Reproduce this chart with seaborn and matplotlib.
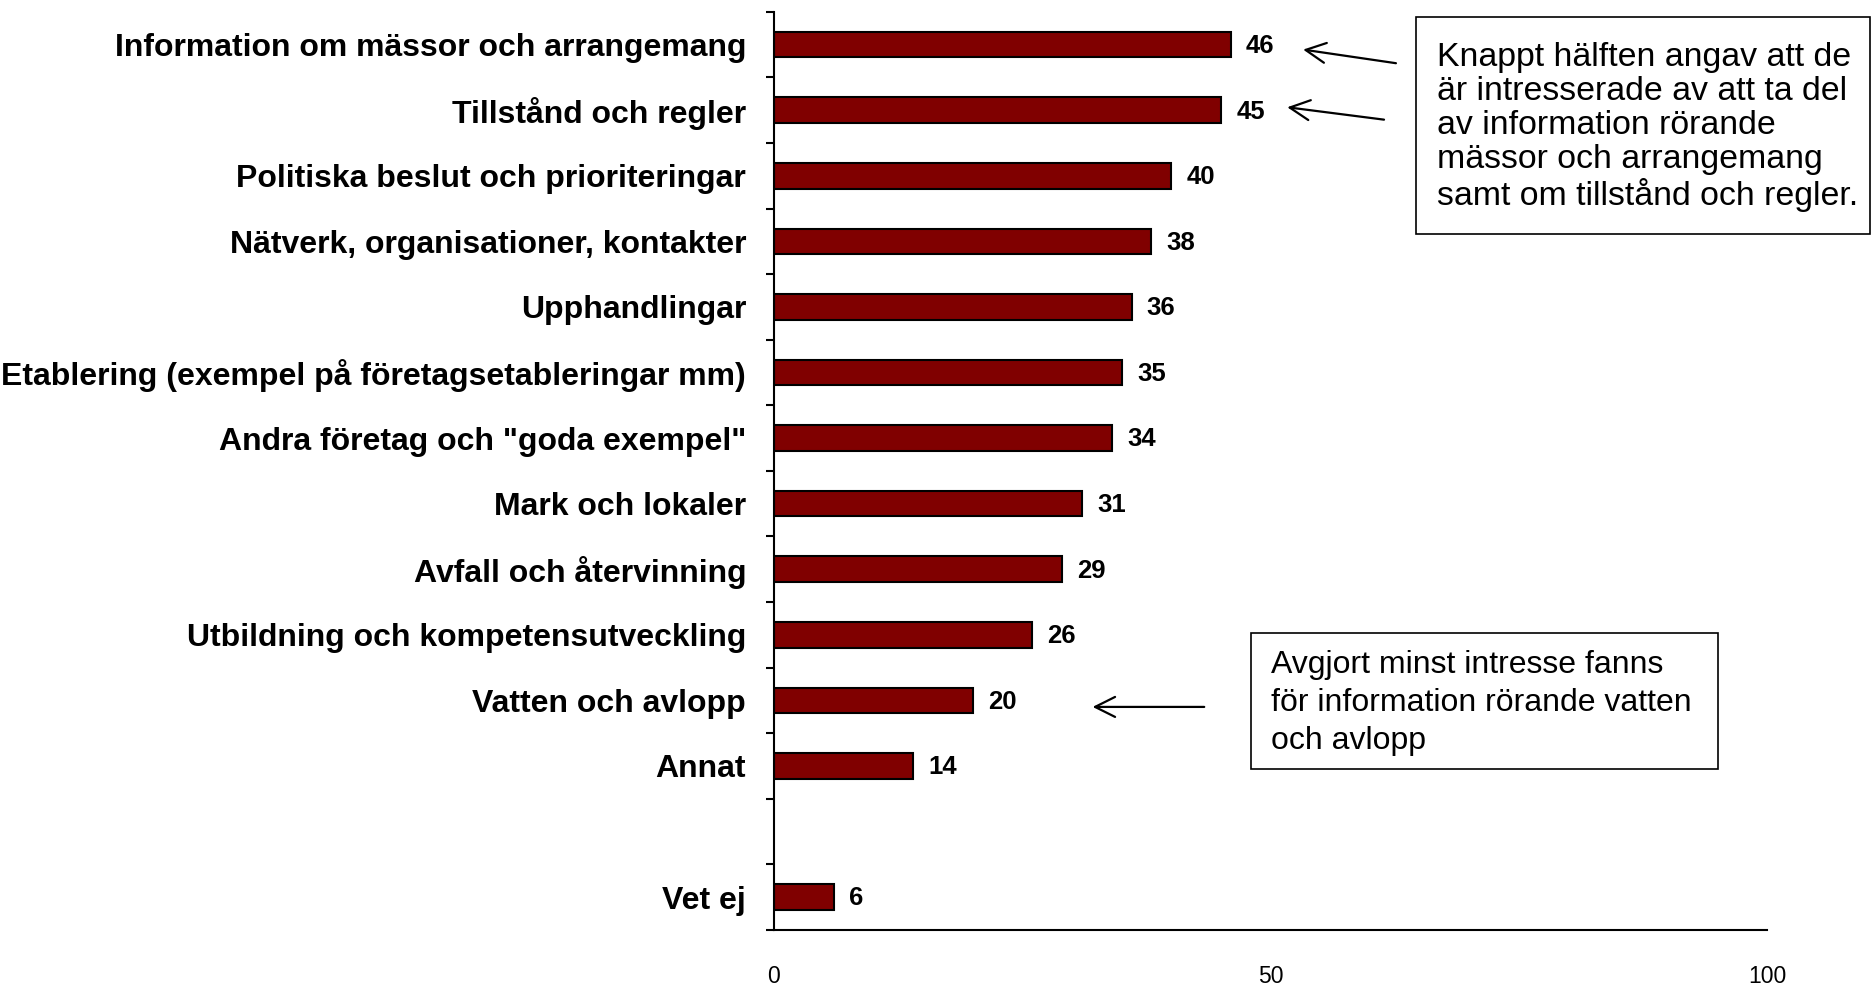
import matplotlib
matplotlib.use("Agg")
import matplotlib.pyplot as plt
import seaborn as sns
import pandas as pd
from matplotlib.patches import Rectangle

# survey answers, percent
categories = [
    "Information om mässor och arrangemang",
    "Tillstånd och regler",
    "Politiska beslut och prioriteringar",
    "Nätverk, organisationer, kontakter",
    "Upphandlingar",
    "Etablering (exempel på företagsetableringar mm)",
    "Andra företag och \"goda exempel\"",
    "Mark och lokaler",
    "Avfall och återvinning",
    "Utbildning och kompetensutveckling",
    "Vatten och avlopp",
    "Annat",
    "Vet ej",
]
values = [46, 45, 40, 38, 36, 35, 34, 31, 29, 26, 20, 14, 6]
x_ticks = [0, 50, 100]

note_top = ("Knappt hälften angav att de\när intresserade av att ta del\n"
            "av information rörande\nmässor och arrangemang\n"
            "samt om tillstånd och regler.")
note_low = "Avgjort minst intresse fanns\nför information rörande vatten\noch avlopp"

gap = " "
order = categories[:12] + [gap] + categories[12:]
df = pd.DataFrame({"topic": categories, "share": values})

sns.set_theme(style="white")
plt.rcParams['font.family'] = ['Liberation Sans', 'DejaVu Sans']
plt.rcParams['text.color'] = 'black'
plt.rcParams['xtick.color'] = 'black'
plt.rcParams['ytick.color'] = 'black'

fig = plt.figure(figsize=(18.74, 9.84), dpi=100)
ax = fig.add_axes([0.413, 0.055, 0.530, 0.933])

sns.barplot(data=df, y="topic", x="share", order=order, color="#800000",
            saturation=1, width=0.39, edgecolor="black", linewidth=1.5, ax=ax)

# value labels
for cat, v in zip(categories, values):
    ax.annotate(str(v), xy=(v, order.index(cat)), xytext=(11, -1),
                textcoords="offset points", va="center", ha="left",
                fontsize=18.5, fontweight="bold")

ax.set_xlim(0, 100)
ax.set_ylim(len(order) - 0.5, -0.5)
ax.set_xlabel("")
ax.set_ylabel("")
ax.set_xticks(x_ticks)
ax.set_xticklabels([str(t) for t in x_ticks], fontsize=16.5)
ax.tick_params(axis="x", direction="out", length=7, width=1.5, pad=18)

ax.set_yticks(range(len(order)))
ax.set_yticklabels(order, fontsize=23, fontweight="bold")
ax.tick_params(axis="y", which="major", length=0, pad=20)
ax.set_yticks([i - 0.5 for i in range(len(order) + 1)], minor=True)
ax.tick_params(axis="y", which="minor", direction="out", length=6, width=1.5, left=True)

sns.despine(ax=ax)
for s in ["left", "bottom"]:
    ax.spines[s].set_color("black")
    ax.spines[s].set_linewidth(1.5)

# arrows
arrow = dict(arrowstyle="->", color="black", lw=1.6, mutation_scale=36)
ax.annotate("", xy=(53.0, 0.07), xytext=(62.9, 0.29), arrowprops=arrow, annotation_clip=False)
ax.annotate("", xy=(51.4, 0.95), xytext=(61.7, 1.15), arrowprops=arrow, annotation_clip=False)
ax.annotate("", xy=(31.8, 10.1), xytext=(43.6, 10.1), arrowprops=arrow, annotation_clip=False)

# note boxes
fig.patches.append(Rectangle((0.7556, 0.762), 0.2425, 0.221, transform=fig.transFigure,
                             facecolor="white", edgecolor="black", lw=1.2))
fig.text(0.767, 0.957, note_top, fontsize=24.4, va="top", ha="left", linespacing=1.12)
fig.patches.append(Rectangle((0.6676, 0.2185), 0.2491, 0.1382, transform=fig.transFigure,
                             facecolor="white", edgecolor="black", lw=1.2))
fig.text(0.678, 0.339, note_low, fontsize=23, va="top", ha="left", linespacing=1.33)

fig.savefig("out.png", dpi=100)
